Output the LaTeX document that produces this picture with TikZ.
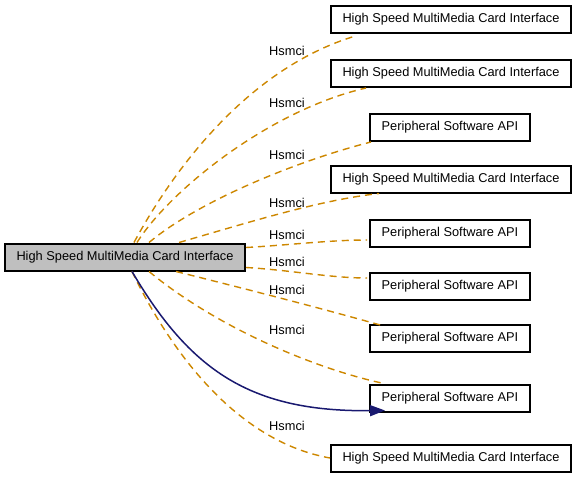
\documentclass[tikz,border=0pt]{standalone}
\usepackage{fontspec}
\setmainfont{Liberation Sans}
\usetikzlibrary{calc,arrows.meta}
\definecolor{boxgray}{RGB}{191,191,191}
\definecolor{edgeor}{RGB}{205,135,0}
\definecolor{navy}{RGB}{25,25,112}
\tikzset{
  grp/.style={draw=black, line width=2pt, fill=white, minimum height=27pt, inner sep=0pt, font=\fontsize{12.8}{14}\selectfont},
  wide/.style={grp, minimum width=240pt},
  narrow/.style={grp, minimum width=160pt},
  mainbox/.style={grp, fill=boxgray, minimum width=240pt},
  dep/.style={draw=edgeor, line width=1.4pt, dash pattern=on 7pt off 5pt},
  sol/.style={draw=navy, line width=1.5pt, -{Triangle[length=15pt,width=11pt]}},
  lab/.style={font=\fontsize{12.8}{14}\selectfont, inner sep=0pt}
}
\begin{document}
\begin{tikzpicture}[x=1pt,y=-1pt]
\useasboundingbox (0,0) rectangle (576,479);
\node[mainbox] (main) at (125,257) {High Speed MultiMedia Card Interface};
\node[wide] (n1) at (451,19) {High Speed MultiMedia Card Interface};
\node[wide] (n2) at (451,73.5) {High Speed MultiMedia Card Interface};
\node[narrow] (n3) at (450,127.5) {Peripheral Software API};
\node[wide] (n4) at (451,179) {High Speed MultiMedia Card Interface};
\node[narrow] (n5) at (450,233.5) {Peripheral Software API};
\node[narrow] (n6) at (450,286) {Peripheral Software API};
\node[narrow] (n7) at (450,338) {Peripheral Software API};
\node[narrow] (n8) at (450,398) {Peripheral Software API};
\node[wide] (n9) at (451,458) {High Speed MultiMedia Card Interface};

\node[lab] (l1) at (287,51) {Hsmci};
\node[lab] (l2) at (287,103) {Hsmci};
\node[lab] (l3) at (287,155) {Hsmci};
\node[lab] (l4) at (287,203) {Hsmci};
\node[lab] (l5) at (287,235) {Hsmci};
\node[lab] (l6) at (287,262) {Hsmci};
\node[lab] (l7) at (287,290) {Hsmci};
\node[lab] (l8) at (287,330) {Hsmci};
\node[lab] (l9) at (287,426) {Hsmci};

\draw[dep] ($(main.north west)+(130,0)$) .. controls (165,185) and (240,70) .. ($(n1.south west)+(27,2)$);
\draw[dep] ($(main.north west)+(133,0)$) .. controls (170,190) and (270,110) .. ($(n2.south west)+(36,0)$);
\draw[dep] ($(main.north west)+(145,0)$) .. controls (200,200) and (300,160) .. ($(n3.south west)+(2,0)$);
\draw[dep] ($(main.north west)+(175,0)$) .. controls (250,222) and (320,200) .. ($(n4.south west)+(49,0)$);
\draw[dep] ($(main.south east)+(0,-24)$) .. controls (290,245) and (330,240) .. ($(n5.west)+(-2,6.5)$);
\draw[dep] ($(main.south east)+(0,-4)$) .. controls (290,270) and (330,278) .. ($(n6.west)+(-2,-8)$);
\draw[dep] ($(main.south west)+(172,0)$) .. controls (250,290) and (320,308) .. ($(n7.north west)+(13,2)$);
\draw[dep] ($(main.south west)+(145,0)$) .. controls (220,330) and (320,370) .. ($(n8.north west)+(15,0)$);
\draw[dep] ($(main.south west)+(128,0)$) .. controls (165,340) and (230,440) .. (n9.west);
\draw[sol] ($(main.south west)+(128,0)$) .. controls (190,370) and (250,412) .. ($(n8.south west)+(16,-2)$);
\end{tikzpicture}
\end{document}
